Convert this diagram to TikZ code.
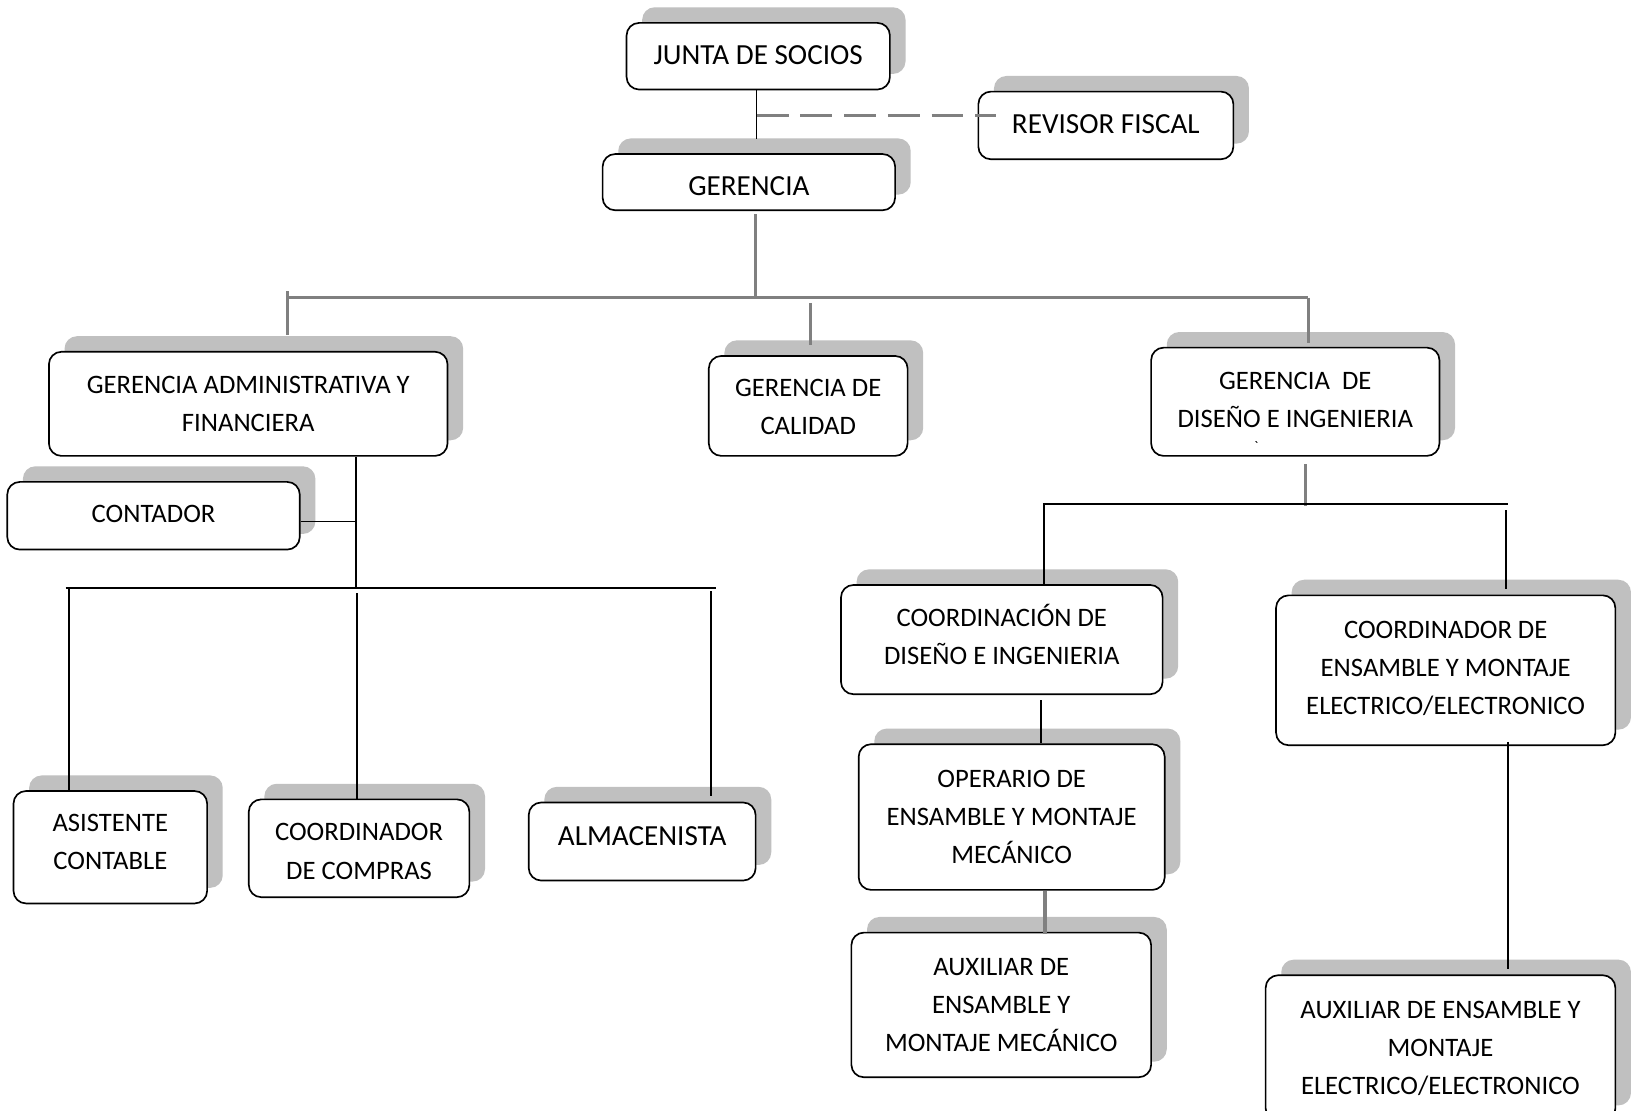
\documentclass[tikz,border=0pt]{standalone}
\usepackage{fontspec}
\setmainfont{Carlito}
\definecolor{shadowc}{RGB}{192,192,192}
\definecolor{linegray}{RGB}{128,128,128}
\tikzset{
  box/.style={draw=black,line width=0.8pt,fill=white,rounded corners=6pt,inner sep=0pt},
  boxtext/.style={inner sep=0pt,align=center,font=\fontsize{12.8}{18.3}\selectfont},
  bigtext/.style={font=\fontsize{14}{19}\selectfont},
  grayline/.style={draw=linegray,line width=1.5pt},
  blkline/.style={draw=black,line width=0.9pt},
  thinblk/.style={draw=black,line width=0.6pt},
  dashline/.style={draw=linegray,line width=1.7pt,dash pattern=on 15.3pt off 5.7pt},
}
% #1 text offset (px, down positive), #2 name, #3-#6 corners, #7 text style, #8 text
\newcommand\orgbox[8][0]{%
  \fill[shadowc,rounded corners=6pt] ({#3+15},{#4-15}) rectangle ({#5+15},{#6-15});
  \node[box,minimum width={(#5-#3)*0.5pt},minimum height={(#6-#4)*0.5pt}] (#2) at ({(#3+#5)/2},{(#4+#6)/2}) {};
  \node[boxtext,#7] (#2-t) at ([yshift={-(#1)*0.5pt}]#2.center) {#8};
}
\begin{document}
\begin{tikzpicture}[x=0.5pt,y=-0.5pt]
\useasboundingbox (0,0) rectangle (1568,1067);
\fill[white] (0,0) rectangle (1568,1067);

% boxes
\orgbox[-1]{junta}{602}{22}{855}{86}{bigtext}{JUNTA DE SOCIOS}
\orgbox[-1]{rev}{940}{88}{1185}{153}{bigtext}{REVISOR FISCAL}
\orgbox[4]{ger}{579}{148}{860}{202}{bigtext}{GERENCIA}
\orgbox{gaf}{47}{338}{430}{438}{}{GERENCIA ADMINISTRATIVA Y\\FINANCIERA}
\orgbox[1]{cal}{681}{342}{872}{438}{}{GERENCIA DE\\CALIDAD}
\orgbox[-1.5]{gdi}{1106}{334}{1383}{438}{}{GERENCIA\ \ DE\\DISEÑO E INGENIERIA}
\orgbox[-2]{cont}{7}{463}{288}{528}{}{CONTADOR}
\orgbox[-5]{asis}{13}{760}{199}{868}{}{ASISTENTE\\CONTABLE}
\orgbox[3]{comp}{239}{768}{451}{862}{}{COORDINADOR\\DE COMPRAS}
\orgbox[-5]{alm}{508}{771}{726}{846}{bigtext}{ALMACENISTA}
\orgbox[-5]{cdi}{808}{562}{1117}{667}{}{COORDINACIÓN DE\\DISEÑO E INGENIERIA}
\orgbox{op}{825}{715}{1119}{855}{}{OPERARIO DE\\ENSAMBLE Y MONTAJE\\MECÁNICO}
\orgbox{auxm}{818}{896}{1106}{1035}{}{AUXILIAR DE\\ENSAMBLE Y\\MONTAJE MECÁNICO}
\orgbox[-1.5]{cea}{1226}{572}{1552}{716}{}{COORDINADOR DE\\ENSAMBLE Y MONTAJE\\ELECTRICO/ELECTRONICO}
\orgbox[0.5]{auxe}{1216}{937}{1552}{1077}{}{AUXILIAR DE ENSAMBLE Y\\MONTAJE\\ELECTRICO/ELECTRONICO}

% stray mark inside GERENCIA DE DISEÑO
\node[font=\fontsize{7}{7}\selectfont,inner sep=0pt] (mark) at (1207,429) {\textasciigrave};

% junction coordinates
\coordinate (d1) at (727,111);
\coordinate (b1) at (726,286);
\coordinate (bL) at (276,286);
\coordinate (bR) at (1257,286);
\coordinate (bM) at (779,291);
\coordinate (c1) at (342,565);
\coordinate (c2L) at (63,565);
\coordinate (c2R) at (688,565);
\coordinate (e1) at (66,565);
\coordinate (e2) at (343,570);
\coordinate (e3) at (683,568);
\coordinate (r0) at (1254,486);
\coordinate (r1L) at (1002,484);
\coordinate (r1R) at (1449,484);
\coordinate (f1) at (1003,484);
\coordinate (f2) at (1447,490);
\coordinate (x1000) at (1000,0);
\coordinate (x1004) at (1004,0);
\coordinate (x1449) at (1449,0);
\coordinate (y501) at (0,501);

% top connectors
\draw[thinblk] (junta.south -| d1) -- ([yshift=7pt]ger.north -| d1);
\draw[dashline] (d1) -- ([xshift=9pt]rev.west |- d1);
\draw[grayline] ([yshift=-1.5pt]ger.south -| b1) -- (b1);
\draw[grayline] (bL) -- (bR);
\draw[grayline] ([yshift=3pt]bL) -- ([yshift=7.5pt]gaf.north -| bL);
\draw[grayline] (bM) -- ([yshift=5pt]cal.north -| bM);
\draw[grayline] (bR) -- ([yshift=2pt]gdi.north -| bR);

% left branch
\draw[blkline] (gaf.south -| c1) -- (c1);
\draw[thinblk] (cont.east |- y501) -- (c1 |- y501);
\draw[blkline] (c2L) -- (c2R);
\draw[blkline] (e1) -- (asis.north -| e1);
\draw[blkline] (e2) -- (comp.north -| e2);
\draw[blkline] (e3) -- ([yshift=2.5pt]alm.north -| e3);

% right branch
\draw[grayline] ([yshift=-3.5pt]gdi.south -| r0) -- (r0);
\draw[blkline] (r1L) -- (r1R);
\draw[blkline] (f1) -- (cdi.north -| f1);
\draw[blkline] (f2) -- ([yshift=2.5pt]cea.north -| f2);
\draw[blkline] ([yshift=-2.5pt]cdi.south -| x1000) -- (op.north -| x1000);
\draw[grayline] (op.south -| x1004) -- ([yshift=-1pt]auxm.north -| x1004);
\draw[blkline] ([yshift=2pt]cea.south -| x1449) -- ([yshift=2.5pt]auxe.north -| x1449);
\end{tikzpicture}
\end{document}
